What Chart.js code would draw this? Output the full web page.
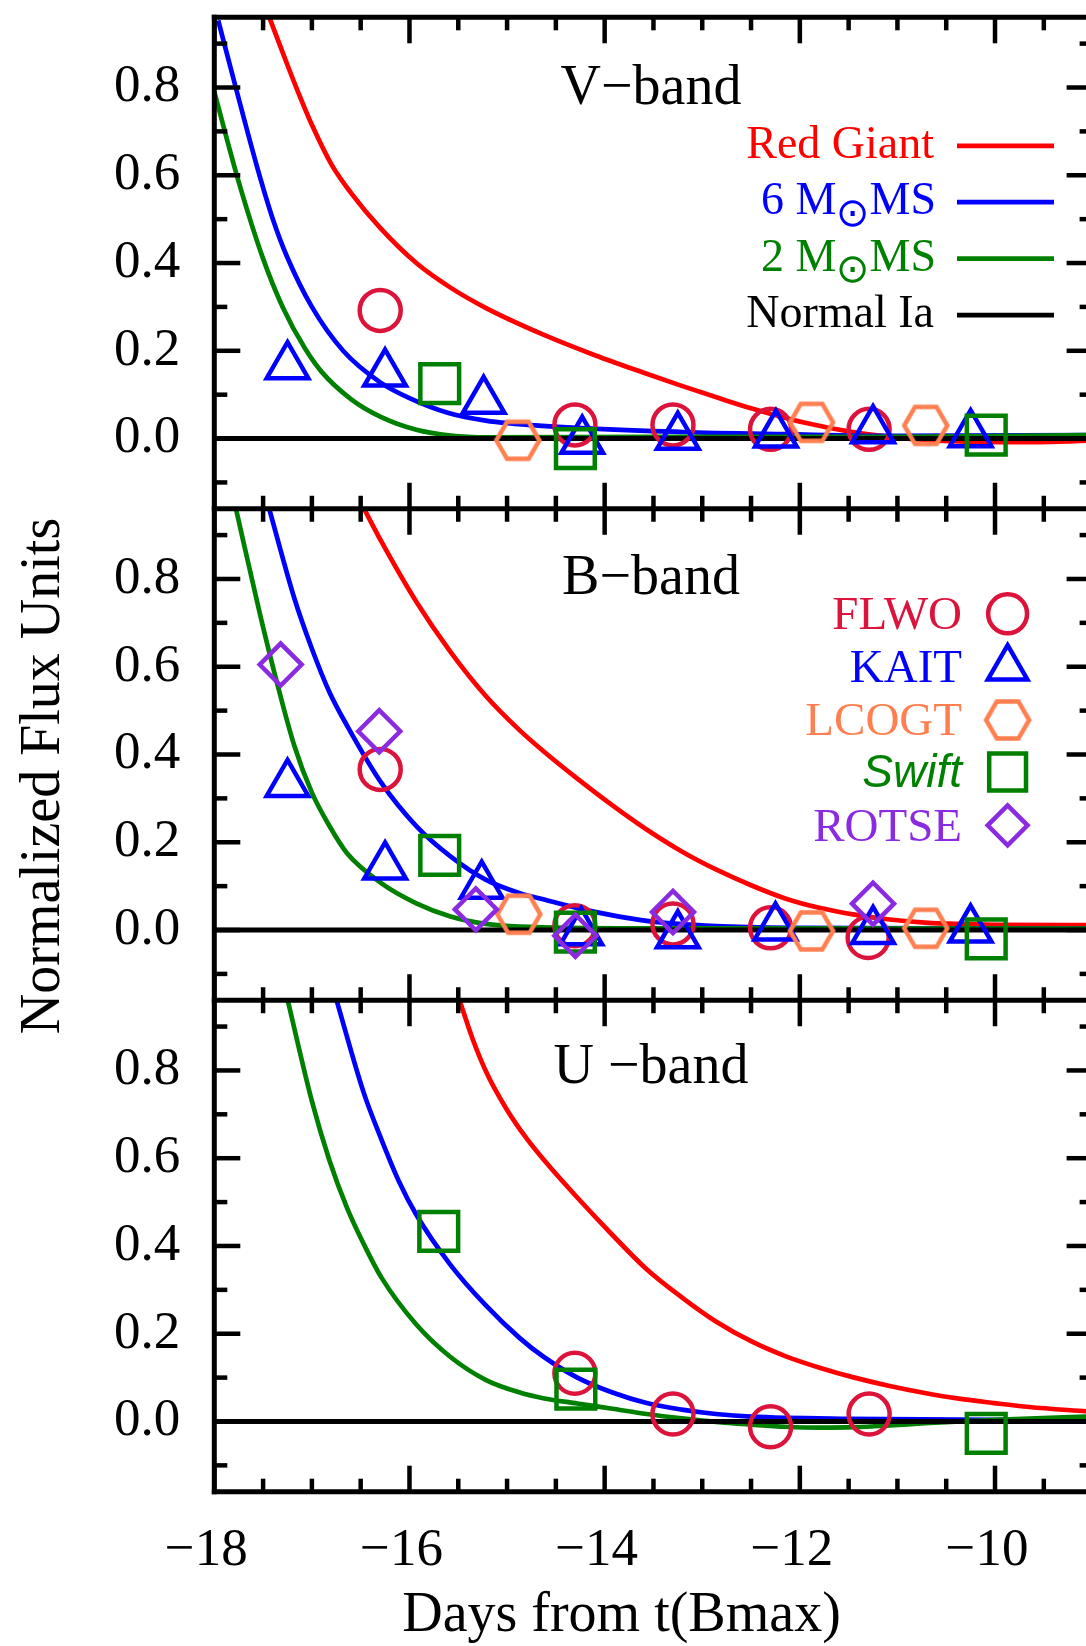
<!DOCTYPE html>
<html lang="en">
  <head>
    <meta charset="utf-8" />
    <title>Normalized Flux Units</title>
    <script src="https://cdn.jsdelivr.net/npm/chart.js@4.4.0/dist/chart.umd.min.js"></script>
    <style>
      html, body { margin: 0; padding: 0; background: #fff; overflow: hidden; }
      #wrap { position: relative; width: 1086px; height: 1646px; overflow: hidden; }
      canvas { display: block; }
    </style>
  </head>
  <body>
    <div id="wrap"><canvas id="flux" width="1100" height="1646"></canvas></div>
    <script>
      // axis ticks
      const xTicks = [-18, -16, -14, -12, -10];
      const xMinorTicks = [-17.5, -17, -16.5, -15.5, -15, -14.5, -13.5, -13, -12.5, -11.5, -11, -10.5, -9.5];
      const yTicks = [0, 0.2, 0.4, 0.6, 0.8];
      const yMinorTicks = [-0.1, 0.1, 0.3, 0.5, 0.7, 0.9];

      const panelIds = ["yV", "yB", "yU"];
      const panelNames = ["V\u2212band", "B\u2212band", "U \u2212band"];
      const modelNames = ["Red Giant", "6 M\u2299MS", "2 M\u2299MS", "Normal Ia"];
      const surveyNames = ["FLWO", "KAIT", "LCOGT", "Swift", "ROTSE"];
      const xTitle = "Days from t(Bmax)";
      const yTitle = "Normalized Flux Units";

      // model curves [day, flux]
      const redGiantV = [[-17.44, 0.962], [-17.3, 0.88], [-17.16, 0.8], [-17.0, 0.715], [-16.8, 0.625], [-16.6, 0.56], [-16.3, 0.48], [-15.93, 0.4], [-15.58, 0.344], [-15.22, 0.298], [-14.64, 0.238], [-14.1, 0.19], [-13.6, 0.15], [-13.21, 0.12], [-12.8, 0.09], [-12.5, 0.069], [-11.97, 0.037], [-11.44, 0.014], [-10.9, 0.0], [-10.3, -0.007], [-9.6, -0.008], [-9.06, -0.005]];
      const ms6V = [[-17.96, 0.953], [-17.78, 0.8], [-17.55, 0.61], [-17.4, 0.5], [-17.25, 0.412], [-17.0, 0.3], [-16.68, 0.2], [-16.3, 0.128], [-16.0, 0.092], [-15.6, 0.058], [-15.22, 0.041], [-14.64, 0.029], [-13.2, 0.015], [-12.15, 0.01], [-11.0, 0.006], [-9.06, 0.008]];
      const ms2V = [[-18.0, 0.79], [-17.75, 0.585], [-17.5, 0.41], [-17.3, 0.3], [-17.07, 0.205], [-16.9, 0.152], [-16.6, 0.09], [-16.3, 0.05], [-15.93, 0.02], [-15.58, 0.007], [-15.2, 0.003], [-13.5, 0.004], [-11.0, 0.004], [-9.06, 0.008]];

      const redGiantB = [[-16.47, 0.962], [-16.29, 0.886], [-15.93, 0.748], [-15.58, 0.634], [-15.22, 0.534], [-14.87, 0.455], [-14.63, 0.408], [-14.28, 0.345], [-13.92, 0.284], [-13.57, 0.229], [-13.21, 0.179], [-12.86, 0.138], [-12.5, 0.102], [-12.15, 0.072], [-11.79, 0.05], [-11.44, 0.035], [-11.08, 0.024], [-10.72, 0.017], [-10.0, 0.012], [-9.06, 0.011]];
      const ms6B = [[-17.44, 0.962], [-17.18, 0.756], [-17.0, 0.641], [-16.82, 0.542], [-16.64, 0.466], [-16.29, 0.336], [-15.93, 0.237], [-15.58, 0.168], [-15.22, 0.115], [-14.87, 0.084], [-14.63, 0.07], [-14.28, 0.05], [-13.57, 0.021], [-12.86, 0.009], [-12.0, 0.005], [-9.06, 0.003]];
      const ms2B = [[-17.78, 0.962], [-17.53, 0.718], [-17.35, 0.557], [-17.18, 0.42], [-17.0, 0.313], [-16.82, 0.237], [-16.64, 0.175], [-16.29, 0.107], [-15.93, 0.061], [-15.58, 0.031], [-15.22, 0.014], [-14.87, 0.008], [-13.5, 0.004], [-9.06, 0.003]];

      const redGiantU = [[-15.49, 0.962], [-15.35, 0.87], [-15.2, 0.79], [-15.0, 0.71], [-14.8, 0.645], [-14.6, 0.59], [-14.3, 0.515], [-13.92, 0.425], [-13.57, 0.347], [-13.21, 0.283], [-12.86, 0.228], [-12.5, 0.183], [-12.15, 0.149], [-11.79, 0.122], [-11.44, 0.1], [-11.08, 0.081], [-10.72, 0.065], [-10.37, 0.052], [-10.01, 0.042], [-9.65, 0.033], [-9.06, 0.023]];
      const ms6U = [[-16.75, 0.962], [-16.47, 0.75], [-16.29, 0.644], [-16.11, 0.548], [-15.93, 0.471], [-15.58, 0.357], [-15.22, 0.265], [-14.87, 0.19], [-14.63, 0.148], [-14.28, 0.1], [-13.92, 0.066], [-13.57, 0.042], [-13.21, 0.027], [-12.86, 0.017], [-12.5, 0.011], [-11.5, 0.006], [-10.0, 0.004], [-9.06, 0.006]];
      const ms2U = [[-17.25, 0.962], [-17.0, 0.73], [-16.82, 0.595], [-16.64, 0.487], [-16.47, 0.405], [-16.29, 0.329], [-15.93, 0.221], [-15.58, 0.147], [-15.22, 0.095], [-14.87, 0.066], [-14.63, 0.053], [-14.28, 0.041], [-13.92, 0.029], [-13.57, 0.017], [-13.21, 0.007], [-12.86, -0.001], [-12.5, -0.007], [-12.15, -0.012], [-11.79, -0.014], [-11.44, -0.013], [-11.08, -0.009], [-10.72, -0.004], [-10.37, 0.0], [-10.0, 0.004], [-9.06, 0.011]];

      const normalIa = [[-18, 0], [-9, 0]];

      // observations [day, flux]
      const flwoV = [[-16.3, 0.292], [-14.305, 0.031], [-13.3, 0.031], [-12.3, 0.021], [-11.29, 0.021]];
      const kaitV = [[-17.25, 0.165], [-16.25, 0.148], [-15.24, 0.086], [-14.23, -0.005], [-13.25, 0.004], [-12.245, 0.009], [-11.25, 0.019], [-10.25, 0.01]];
      const lcogtV = [[-14.89, -0.004], [-11.88, 0.037], [-10.71, 0.03]];
      const swiftV = [[-15.69, 0.125], [-14.3, -0.023], [-10.09, 0.008]];

      const flwoB = [[-16.3, 0.366], [-14.305, 0.01], [-13.3, 0.014], [-12.3, 0.005], [-11.3, -0.017]];
      const kaitB = [[-17.25, 0.333], [-16.25, 0.145], [-15.26, 0.101], [-14.24, -0.005], [-13.25, -0.012], [-12.25, 0.006], [-11.25, -0.002], [-10.25, 0.001]];
      const lcogtB = [[-14.88, 0.036], [-11.88, -0.002], [-10.71, 0.004]];
      const swiftB = [[-15.69, 0.17], [-14.3, -0.005], [-10.09, -0.02]];
      const rotseB = [[-17.32, 0.605], [-16.31, 0.453], [-15.32, 0.047], [-14.3, -0.013], [-13.3, 0.041], [-11.25, 0.06]];

      const flwoU = [[-14.305, 0.11], [-13.3, 0.017], [-12.3, -0.012], [-11.29, 0.017]];
      const swiftU = [[-15.7, 0.433], [-14.295, 0.074], [-10.09, -0.027]];

      const serif = "'Liberation Serif', 'Times New Roman', serif";
      const modelColors = ["#ff0000", "#0000ff", "#008000", "#000000"];

      function hexagon(color) {
        const c = document.createElement("canvas");
        c.width = 52;
        c.height = 48;
        const g = c.getContext("2d");
        g.strokeStyle = color;
        g.lineWidth = 4.5;
        g.beginPath();
        for (let i = 0; i < 6; i++) {
          const a = (i * Math.PI) / 3;
          const px = 26 + 21.5 * Math.cos(a);
          const py = 24 + 21.5 * Math.sin(a);
          if (i === 0) g.moveTo(px, py);
          else g.lineTo(px, py);
        }
        g.closePath();
        g.stroke();
        return c;
      }

      const surveyStyles = {
        FLWO: { style: "circle", color: "#dc143c", r: 20.5 },
        KAIT: { style: "triangle", color: "#0000ff", r: 24 },
        LCOGT: { style: hexagon("#ff7f50"), color: "#ff7f50", r: 21.5 },
        Swift: { style: "rect", color: "#008000", r: 27.4 },
        ROTSE: { style: "rectRot", color: "#8a2be2", r: 21 },
      };
      const surveyOrder = { FLWO: 5, KAIT: 4, LCOGT: 3, Swift: 2, ROTSE: 1 };

      const toXY = (pts) => pts.map((p) => ({ x: p[0], y: p[1] }));

      function curve(pts, color, axis, order, width) {
        return {
          data: toXY(pts),
          yAxisID: axis,
          borderColor: color,
          borderWidth: width || 4.7,
          pointRadius: 0,
          cubicInterpolationMode: "monotone",
          fill: false,
          order: order,
        };
      }

      function marks(pts, survey, axis) {
        const s = surveyStyles[survey];
        return {
          label: survey,
          data: toXY(pts),
          yAxisID: axis,
          showLine: false,
          pointStyle: s.style,
          pointRadius: s.r,
          pointBorderWidth: 4.5,
          pointBorderColor: s.color,
          pointBackgroundColor: "rgba(0,0,0,0)",
          order: surveyOrder[survey],
        };
      }

      const datasets = [
        curve(redGiantV, modelColors[0], "yV", 9),
        curve(ms6V, modelColors[1], "yV", 8),
        curve(ms2V, modelColors[2], "yV", 7),
        curve(normalIa, modelColors[3], "yV", 6, 5),
        marks(flwoV, "FLWO", "yV"),
        marks(kaitV, "KAIT", "yV"),
        marks(lcogtV, "LCOGT", "yV"),
        marks(swiftV, "Swift", "yV"),

        curve(redGiantB, modelColors[0], "yB", 9),
        curve(ms6B, modelColors[1], "yB", 8),
        curve(ms2B, modelColors[2], "yB", 7),
        curve(normalIa, modelColors[3], "yB", 6, 5),
        marks(flwoB, "FLWO", "yB"),
        marks(kaitB, "KAIT", "yB"),
        marks(lcogtB, "LCOGT", "yB"),
        marks(swiftB, "Swift", "yB"),
        marks(rotseB, "ROTSE", "yB"),

        curve(redGiantU, modelColors[0], "yU", 9),
        curve(ms6U, modelColors[1], "yU", 8),
        curve(ms2U, modelColors[2], "yU", 7),
        curve(normalIa, modelColors[3], "yU", 6, 5),
        marks(flwoU, "FLWO", "yU"),
        marks(swiftU, "Swift", "yU"),
      ];

      function yAxis(weight) {
        return {
          type: "linear",
          position: "left",
          stack: "panels",
          stackWeight: 1,
          weight: weight,
          min: -0.16,
          max: 0.96,
          grid: { display: false, drawTicks: false },
          border: { display: false },
          ticks: {
            font: { family: serif, size: 53 },
            color: "#000",
            padding: 34,
            callback: (v) => Math.abs(v).toFixed(1),
          },
          afterBuildTicks: (s) => {
            s.ticks = yTicks.map((v) => ({ value: v }));
          },
          afterFit: (s) => {
            s.width = 214.3;
            s.paddingTop = 0;
            s.paddingBottom = 0;
          },
        };
      }

      // ticks on all four sides of each panel, and the frame
      const framePlugin = {
        id: "frame",
        afterDatasetsDraw(chart) {
          const ctx = chart.ctx;
          const xs = chart.scales.x;
          const L = xs.left;
          const R = xs.right;
          const seg = (x1, y1, x2, y2) => {
            ctx.beginPath();
            ctx.moveTo(x1, y1);
            ctx.lineTo(x2, y2);
            ctx.stroke();
          };
          ctx.save();
          ctx.strokeStyle = "#000";
          ctx.lineWidth = 4.5;
          panelIds.forEach((id) => {
            const ys = chart.scales[id];
            const T = ys.top;
            const B = ys.bottom;
            xTicks.forEach((v) => {
              const px = xs.getPixelForValue(v);
              seg(px, T, px, T + 26);
              seg(px, B, px, B - 26);
            });
            xMinorTicks.forEach((v) => {
              const px = xs.getPixelForValue(v);
              seg(px, T, px, T + 13);
              seg(px, B, px, B - 13);
            });
            yTicks.forEach((v) => {
              const py = ys.getPixelForValue(v);
              seg(L, py, L + 26, py);
              seg(R, py, R - 26, py);
            });
            yMinorTicks.forEach((v) => {
              const py = ys.getPixelForValue(v);
              seg(L, py, L + 13, py);
              seg(R, py, R - 13, py);
            });
          });
          ctx.lineWidth = 5;
          ctx.lineCap = "square";
          const top = chart.scales.yV.top;
          const bottom = chart.scales.yU.bottom;
          seg(L, top, L, bottom);
          seg(R, top, R, bottom);
          panelIds.forEach((id) => {
            seg(L, chart.scales[id].top, R, chart.scales[id].top);
          });
          seg(L, bottom, R, bottom);
          ctx.restore();
        },
      };

      // panel names, legends and axis titles
      const labelPlugin = {
        id: "labels",
        afterDraw(chart) {
          const ctx = chart.ctx;
          ctx.save();
          ctx.textBaseline = "middle";

          ctx.fillStyle = "#000";
          ctx.textAlign = "center";
          ctx.font = "56px " + serif;
          const nameY = [89, 579, 1068.5];
          panelIds.forEach((id, i) => ctx.fillText(panelNames[i], 651, nameY[i]));

          ctx.fillText(xTitle, 621.5, 1616);

          ctx.save();
          ctx.translate(44, 776);
          ctx.rotate(-Math.PI / 2);
          ctx.font = "56px " + serif;
          ctx.fillText(yTitle, 0, 0);
          ctx.restore();

          // model legend (top panel)
          const rowY = [145.8, 202.2, 258.7, 315.1];
          modelNames.forEach((name, i) => {
            const y = rowY[i];
            ctx.fillStyle = modelColors[i];
            ctx.font = "46px " + serif;
            ctx.textAlign = "right";
            const parts = name.split("\u2299");
            if (parts.length === 2) {
              ctx.fillText(parts[1], 936, y);
              const w = ctx.measureText(parts[1]).width;
              ctx.font = "40px 'DejaVu Sans'";
              ctx.textAlign = "center";
              const cx = 936 - w - 17;
              ctx.fillText("\u2299", cx, y + 13);
              ctx.font = "46px " + serif;
              ctx.textAlign = "right";
              ctx.fillText(parts[0], cx - 16, y);
            } else {
              ctx.fillText(name, 934, y);
            }
            ctx.strokeStyle = modelColors[i];
            ctx.lineWidth = 4.7;
            ctx.beginPath();
            ctx.moveTo(957, y);
            ctx.lineTo(1054, y);
            ctx.stroke();
          });

          // survey legend (middle panel)
          const markY = [613.8, 668, 720, 772, 825.3];
          const textY = [617, 670, 723, 774, 829];
          surveyNames.forEach((name, i) => {
            const s = surveyStyles[name];
            ctx.fillStyle = s.color;
            ctx.textAlign = "right";
            ctx.font = name === "Swift" ? "italic 46px 'Liberation Sans', Arial, sans-serif" : "47px " + serif;
            ctx.fillText(name, 962, textY[i]);
            ctx.strokeStyle = s.color;
            ctx.fillStyle = "rgba(0,0,0,0)";
            ctx.lineWidth = 4.5;
            const opts = { pointStyle: s.style, rotation: 0, radius: s.r * 0.95, borderWidth: 4.5 };
            if (Chart.helpers && Chart.helpers.drawPoint) {
              Chart.helpers.drawPoint(ctx, opts, 1007.6, markY[i]);
            }
          });
          ctx.restore();
        },
      };

      new Chart(document.getElementById("flux"), {
        type: "line",
        data: { datasets: datasets },
        options: {
          responsive: false,
          animation: false,
          devicePixelRatio: 1,
          events: [],
          layout: { autoPadding: false, padding: { top: 17.3, right: 7.4, bottom: 0, left: 0 } },
          plugins: { legend: { display: false }, tooltip: { enabled: false } },
          scales: {
            x: {
              type: "linear",
              position: "bottom",
              min: -18,
              max: -9,
              grid: { display: false, drawTicks: false },
              border: { display: false },
              ticks: {
                font: { family: serif, size: 53 },
                color: "#000",
                padding: 28,
                labelOffset: -8,
                maxRotation: 0,
                autoSkip: false,
                callback: (v) => (v < 0 ? "\u2212" : "") + Math.abs(v),
              },
              afterBuildTicks: (s) => {
                s.ticks = xTicks.map((v) => ({ value: v }));
              },
              afterFit: (s) => {
                s.height = 154.3;
                s.paddingLeft = 0;
                s.paddingRight = 0;
              },
            },
            yU: yAxis(1),
            yB: yAxis(2),
            yV: yAxis(3),
          },
        },
        plugins: [framePlugin, labelPlugin],
      });
    </script>
  </body>
</html>
